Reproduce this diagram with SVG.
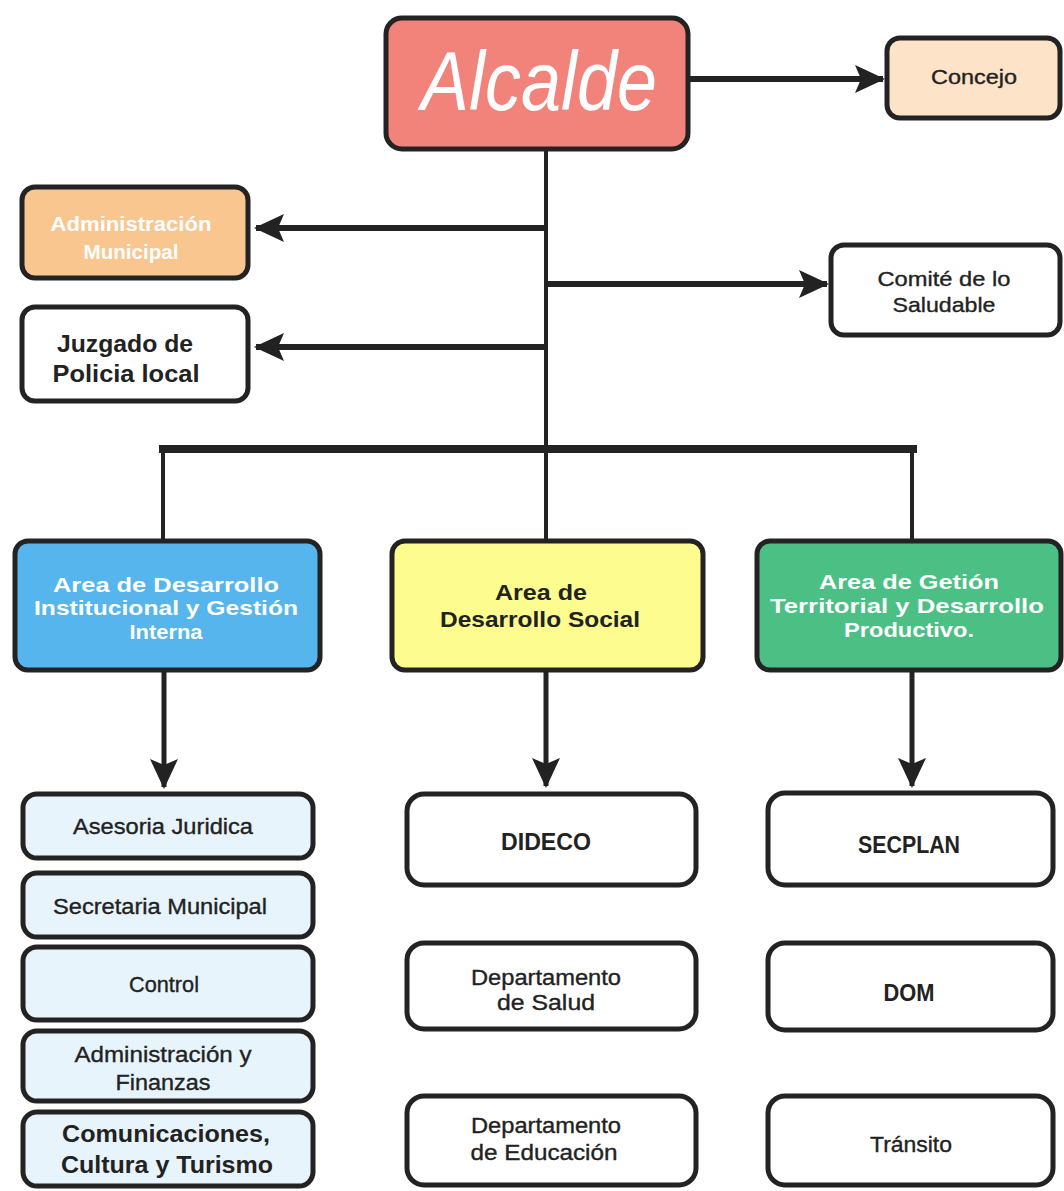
<svg xmlns="http://www.w3.org/2000/svg" width="1064" height="1191" viewBox="0 0 1064 1191">
<defs>
<marker id="ah" markerUnits="userSpaceOnUse" markerWidth="30" markerHeight="30" refX="28" refY="15" orient="auto">
<path d="M0,1 L30,15 L0,29 L6,15 Z" fill="#222"/>
</marker>
<style>
.box{stroke:#232323;stroke-width:5}
.t{font-family:"Liberation Sans",Arial,sans-serif;font-weight:bold;text-anchor:middle;fill:#222}
.w{fill:#fff}
.n{font-weight:normal;stroke:#222;stroke-width:0.35}
.c{stroke:#232323;fill:none}
</style>
</defs>
<rect width="1064" height="1191" fill="#fff"/>
<g id="connectors">
<line class="c" x1="546" y1="150" x2="546" y2="452" stroke-width="4"/>
<line class="c" x1="690" y1="79" x2="883" y2="79" stroke-width="6" marker-end="url(#ah)"/>
<line class="c" x1="546" y1="228" x2="256" y2="228" stroke-width="6" marker-end="url(#ah)"/>
<line class="c" x1="546" y1="284" x2="827" y2="284" stroke-width="6" marker-end="url(#ah)"/>
<line class="c" x1="546" y1="347" x2="256" y2="347" stroke-width="6" marker-end="url(#ah)"/>
<line class="c" x1="159" y1="449" x2="917" y2="449" stroke-width="8"/>
<line class="c" x1="163" y1="449" x2="163" y2="542" stroke-width="4"/>
<line class="c" x1="546" y1="449" x2="546" y2="542" stroke-width="4"/>
<line class="c" x1="912" y1="449" x2="912" y2="542" stroke-width="4"/>
<line class="c" x1="164" y1="671" x2="164" y2="787" stroke-width="5" marker-end="url(#ah)"/>
<line class="c" x1="546" y1="671" x2="546" y2="786" stroke-width="5" marker-end="url(#ah)"/>
<line class="c" x1="912" y1="671" x2="912" y2="786" stroke-width="5" marker-end="url(#ah)"/>
</g>
<g id="alcalde">
<rect class="box" x="386" y="18" width="302" height="131" rx="16" fill="#f2837b" stroke-width="6"/>
<text x="539" y="110" font-family="Liberation Sans,Arial,sans-serif" font-style="italic" font-size="84" fill="#fff" text-anchor="middle" textLength="236" lengthAdjust="spacingAndGlyphs">Alcalde</text>
</g>
<g id="concejo">
<rect class="box" x="887" y="38" width="173" height="80" rx="13" fill="#fde3c8"/>
<text class="t n" x="974" y="84" font-size="20" textLength="86" lengthAdjust="spacingAndGlyphs">Concejo</text>
</g>
<g id="administracion-municipal">
<rect class="box" x="22" y="187" width="226" height="91" rx="13" fill="#f9c690"/>
<text class="t w" x="131" y="231" font-size="20" textLength="161" lengthAdjust="spacingAndGlyphs">Administración</text>
<text class="t w" x="131" y="259" font-size="20" textLength="95" lengthAdjust="spacingAndGlyphs">Municipal</text>
</g>
<g id="comite">
<rect class="box" x="831" y="245" width="229" height="90" rx="13" fill="#fff"/>
<text class="t n" x="944" y="286" font-size="21" textLength="133" lengthAdjust="spacingAndGlyphs">Comité de lo</text>
<text class="t n" x="944" y="312" font-size="21" textLength="103" lengthAdjust="spacingAndGlyphs">Saludable</text>
</g>
<g id="juzgado">
<rect class="box" x="22" y="307" width="226" height="94" rx="13" fill="#fff"/>
<text class="t" x="125" y="352" font-size="24" textLength="136" lengthAdjust="spacingAndGlyphs">Juzgado de</text>
<text class="t" x="126" y="382" font-size="24" textLength="147" lengthAdjust="spacingAndGlyphs">Policia local</text>
</g>
<g id="area-institucional">
<rect class="box" x="15" y="541" width="305" height="129" rx="13" fill="#56b5ec"/>
<text class="t w" x="166" y="592" font-size="21" textLength="226" lengthAdjust="spacingAndGlyphs">Area de Desarrollo</text>
<text class="t w" x="166" y="615" font-size="21" textLength="264" lengthAdjust="spacingAndGlyphs">Institucional y Gestión</text>
<text class="t w" x="166" y="639" font-size="21" textLength="73" lengthAdjust="spacingAndGlyphs">Interna</text>
</g>
<g id="area-social">
<rect class="box" x="392" y="541" width="311" height="129" rx="13" fill="#fcfc8f"/>
<text class="t" x="541" y="600" font-size="22" textLength="92" lengthAdjust="spacingAndGlyphs">Area de</text>
<text class="t" x="540" y="627" font-size="22" textLength="200" lengthAdjust="spacingAndGlyphs">Desarrollo Social</text>
</g>
<g id="area-territorial">
<rect class="box" x="757" y="541" width="304" height="129" rx="13" fill="#4bbf84"/>
<text class="t w" x="909" y="589" font-size="21" textLength="180" lengthAdjust="spacingAndGlyphs">Area de Getión</text>
<text class="t w" x="907" y="613" font-size="21" textLength="274" lengthAdjust="spacingAndGlyphs">Territorial y Desarrollo</text>
<text class="t w" x="909" y="637" font-size="21" textLength="130" lengthAdjust="spacingAndGlyphs">Productivo.</text>
</g>
<g id="asesoria">
<rect class="box" x="23" y="794" width="290" height="64" rx="14" fill="#e7f4fb"/>
<text class="t n" x="163" y="834" font-size="22" textLength="180" lengthAdjust="spacingAndGlyphs">Asesoria Juridica</text>
</g>
<g id="secretaria">
<rect class="box" x="23" y="873" width="290" height="64" rx="14" fill="#e7f4fb"/>
<text class="t n" x="160" y="914" font-size="22" textLength="214" lengthAdjust="spacingAndGlyphs">Secretaria Municipal</text>
</g>
<g id="control">
<rect class="box" x="23" y="947" width="290" height="73" rx="14" fill="#e7f4fb"/>
<text class="t n" x="164" y="992" font-size="22" textLength="70" lengthAdjust="spacingAndGlyphs">Control</text>
</g>
<g id="administracion-finanzas">
<rect class="box" x="23" y="1031" width="290" height="70" rx="14" fill="#e7f4fb"/>
<text class="t n" x="163" y="1062" font-size="22" textLength="177" lengthAdjust="spacingAndGlyphs">Administración y</text>
<text class="t n" x="163" y="1090" font-size="22" textLength="95" lengthAdjust="spacingAndGlyphs">Finanzas</text>
</g>
<g id="comunicaciones">
<rect class="box" x="23" y="1112" width="290" height="74" rx="14" fill="#e7f4fb"/>
<text class="t" x="166" y="1142" font-size="23" textLength="208" lengthAdjust="spacingAndGlyphs">Comunicaciones,</text>
<text class="t" x="167" y="1173" font-size="23" textLength="212" lengthAdjust="spacingAndGlyphs">Cultura y Turismo</text>
</g>
<g id="dideco">
<rect class="box" x="407" y="794" width="289" height="91" rx="17" fill="#fff"/>
<text class="t" x="546" y="850" font-size="23" textLength="90" lengthAdjust="spacingAndGlyphs">DIDECO</text>
</g>
<g id="salud">
<rect class="box" x="407" y="943" width="289" height="86" rx="17" fill="#fff"/>
<text class="t n" x="546" y="985" font-size="22" textLength="150" lengthAdjust="spacingAndGlyphs">Departamento</text>
<text class="t n" x="546" y="1010" font-size="22" textLength="98" lengthAdjust="spacingAndGlyphs">de Salud</text>
</g>
<g id="educacion">
<rect class="box" x="407" y="1096" width="289" height="89" rx="17" fill="#fff"/>
<text class="t n" x="546" y="1133" font-size="22" textLength="150" lengthAdjust="spacingAndGlyphs">Departamento</text>
<text class="t n" x="544" y="1160" font-size="22" textLength="147" lengthAdjust="spacingAndGlyphs">de Educación</text>
</g>
<g id="secplan">
<rect class="box" x="768" y="793" width="285" height="92" rx="17" fill="#fff"/>
<text class="t" x="909" y="853" font-size="23" textLength="102" lengthAdjust="spacingAndGlyphs">SECPLAN</text>
</g>
<g id="dom">
<rect class="box" x="768" y="943" width="285" height="87" rx="17" fill="#fff"/>
<text class="t" x="909" y="1001" font-size="23" textLength="51" lengthAdjust="spacingAndGlyphs">DOM</text>
</g>
<g id="transito">
<rect class="box" x="768" y="1096" width="285" height="89" rx="17" fill="#fff"/>
<text class="t n" x="911" y="1152" font-size="22" textLength="82" lengthAdjust="spacingAndGlyphs">Tránsito</text>
</g>
</svg>
